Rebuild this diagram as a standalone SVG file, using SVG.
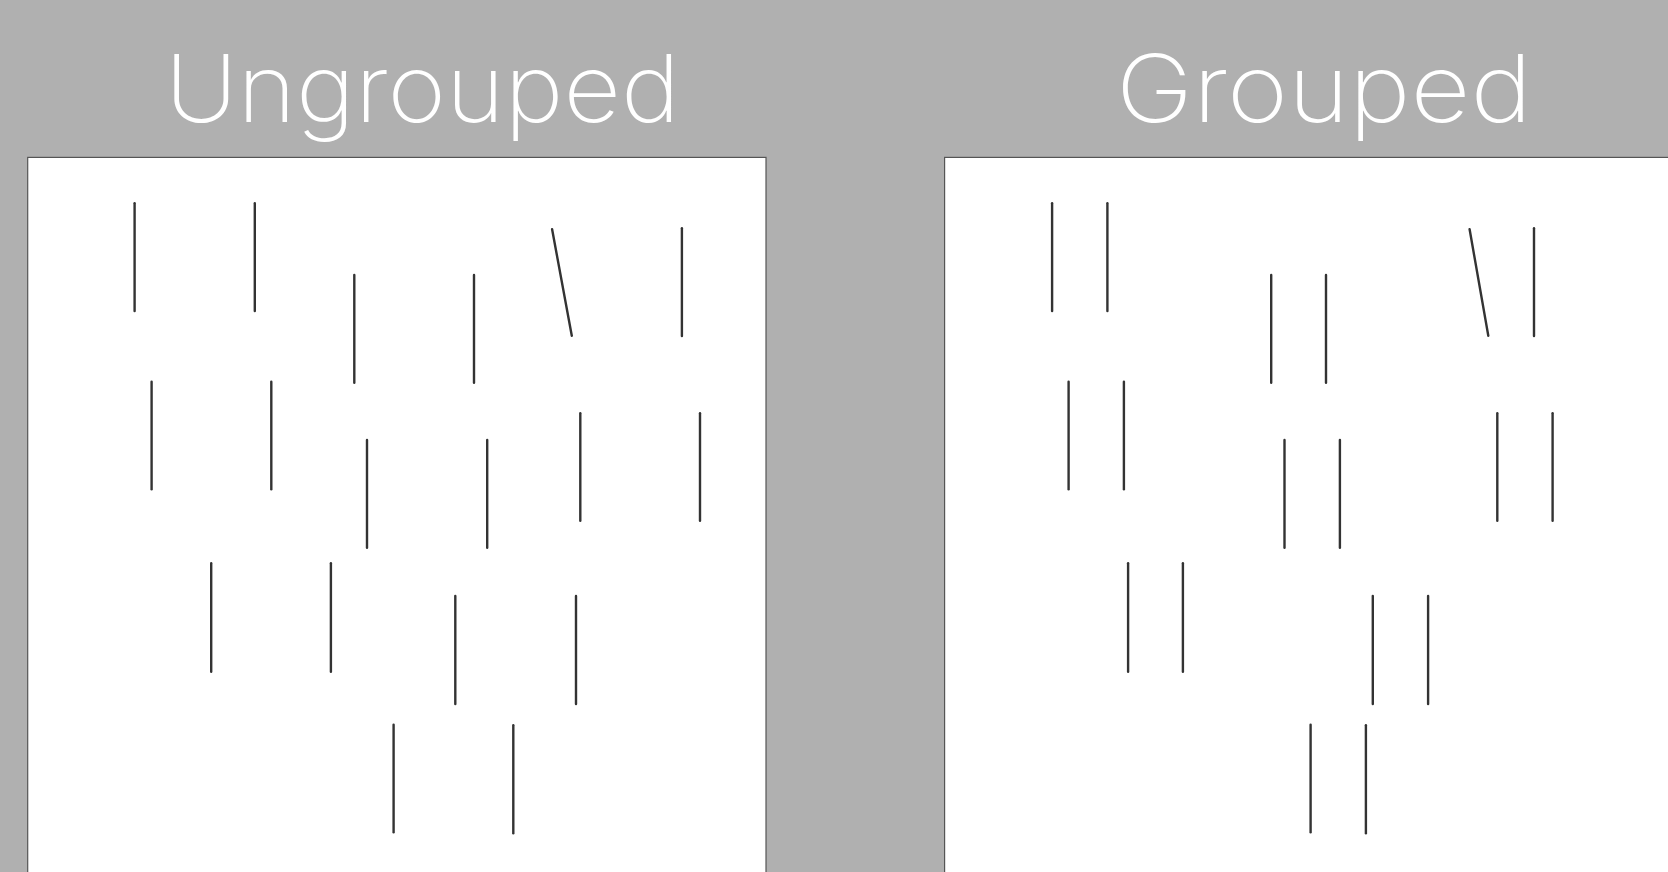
<svg xmlns="http://www.w3.org/2000/svg" width="1668" height="872" viewBox="0 0 1668 872">
<style>
.title{font-family:Inter,Roboto,"Liberation Sans",sans-serif;font-weight:200;font-size:94px;fill:#ffffff;text-anchor:middle}
.panel{fill:#ffffff;stroke:#555555;stroke-width:1.2}
.ln{stroke:#333333;stroke-width:2.4;stroke-linecap:round}
</style>
<rect x="0" y="0" width="1668" height="872" fill="#b0b0b0"/>
<g id="ungrouped">
<text class="title" x="422.5" y="122.3" textLength="515" lengthAdjust="spacingAndGlyphs">Ungrouped</text>
<rect class="panel" x="27.7" y="157.4" width="738.3" height="730"/>
<g id="ungrouped-lines">
<line class="ln" x1="134.6" y1="203.3" x2="134.6" y2="311"/>
<line class="ln" x1="254.8" y1="203.3" x2="254.8" y2="311"/>
<line class="ln" x1="354.3" y1="275" x2="354.3" y2="382.7"/>
<line class="ln" x1="474" y1="275" x2="474" y2="382.7"/>
<line class="ln" x1="552.1" y1="229.3" x2="571.8" y2="335.7"/>
<line class="ln" x1="681.9" y1="228.3" x2="681.9" y2="336"/>
<line class="ln" x1="151.6" y1="381.7" x2="151.6" y2="489.3"/>
<line class="ln" x1="271.3" y1="381.7" x2="271.3" y2="489.3"/>
<line class="ln" x1="367" y1="440" x2="367" y2="547.7"/>
<line class="ln" x1="487.2" y1="440" x2="487.2" y2="547.7"/>
<line class="ln" x1="580.3" y1="413.3" x2="580.3" y2="520.7"/>
<line class="ln" x1="700" y1="413.3" x2="700" y2="520.7"/>
<line class="ln" x1="211.2" y1="563.3" x2="211.2" y2="671.7"/>
<line class="ln" x1="330.9" y1="563.3" x2="330.9" y2="671.7"/>
<line class="ln" x1="455.3" y1="596" x2="455.3" y2="704"/>
<line class="ln" x1="576" y1="596" x2="576" y2="704"/>
<line class="ln" x1="393.6" y1="724.7" x2="393.6" y2="832.3"/>
<line class="ln" x1="513.3" y1="725.3" x2="513.3" y2="833.3"/>
</g>
</g>
<g id="grouped">
<text class="title" x="1324" y="122.3" textLength="416" lengthAdjust="spacingAndGlyphs">Grouped</text>
<rect class="panel" x="944.6" y="157.4" width="740" height="730"/>
<g id="grouped-lines">
<line class="ln" x1="1052.1" y1="203.3" x2="1052.1" y2="311"/>
<line class="ln" x1="1107.4" y1="203.3" x2="1107.4" y2="311"/>
<line class="ln" x1="1271.2" y1="275" x2="1271.2" y2="382.7"/>
<line class="ln" x1="1326" y1="275" x2="1326" y2="382.7"/>
<line class="ln" x1="1469.6" y1="229.3" x2="1488.3" y2="335.7"/>
<line class="ln" x1="1534" y1="228.3" x2="1534" y2="336"/>
<line class="ln" x1="1068.6" y1="381.7" x2="1068.6" y2="489.3"/>
<line class="ln" x1="1123.9" y1="381.7" x2="1123.9" y2="489.3"/>
<line class="ln" x1="1284.5" y1="440" x2="1284.5" y2="547.7"/>
<line class="ln" x1="1339.9" y1="440" x2="1339.9" y2="547.7"/>
<line class="ln" x1="1497.3" y1="413.3" x2="1497.3" y2="520.7"/>
<line class="ln" x1="1552.6" y1="413.3" x2="1552.6" y2="520.7"/>
<line class="ln" x1="1128.1" y1="563.3" x2="1128.1" y2="671.7"/>
<line class="ln" x1="1182.9" y1="563.3" x2="1182.9" y2="671.7"/>
<line class="ln" x1="1372.8" y1="596" x2="1372.8" y2="704"/>
<line class="ln" x1="1428.1" y1="596" x2="1428.1" y2="704"/>
<line class="ln" x1="1310.6" y1="724.7" x2="1310.6" y2="832.3"/>
<line class="ln" x1="1365.9" y1="725.3" x2="1365.9" y2="833.3"/>
</g>
</g>
</svg>
